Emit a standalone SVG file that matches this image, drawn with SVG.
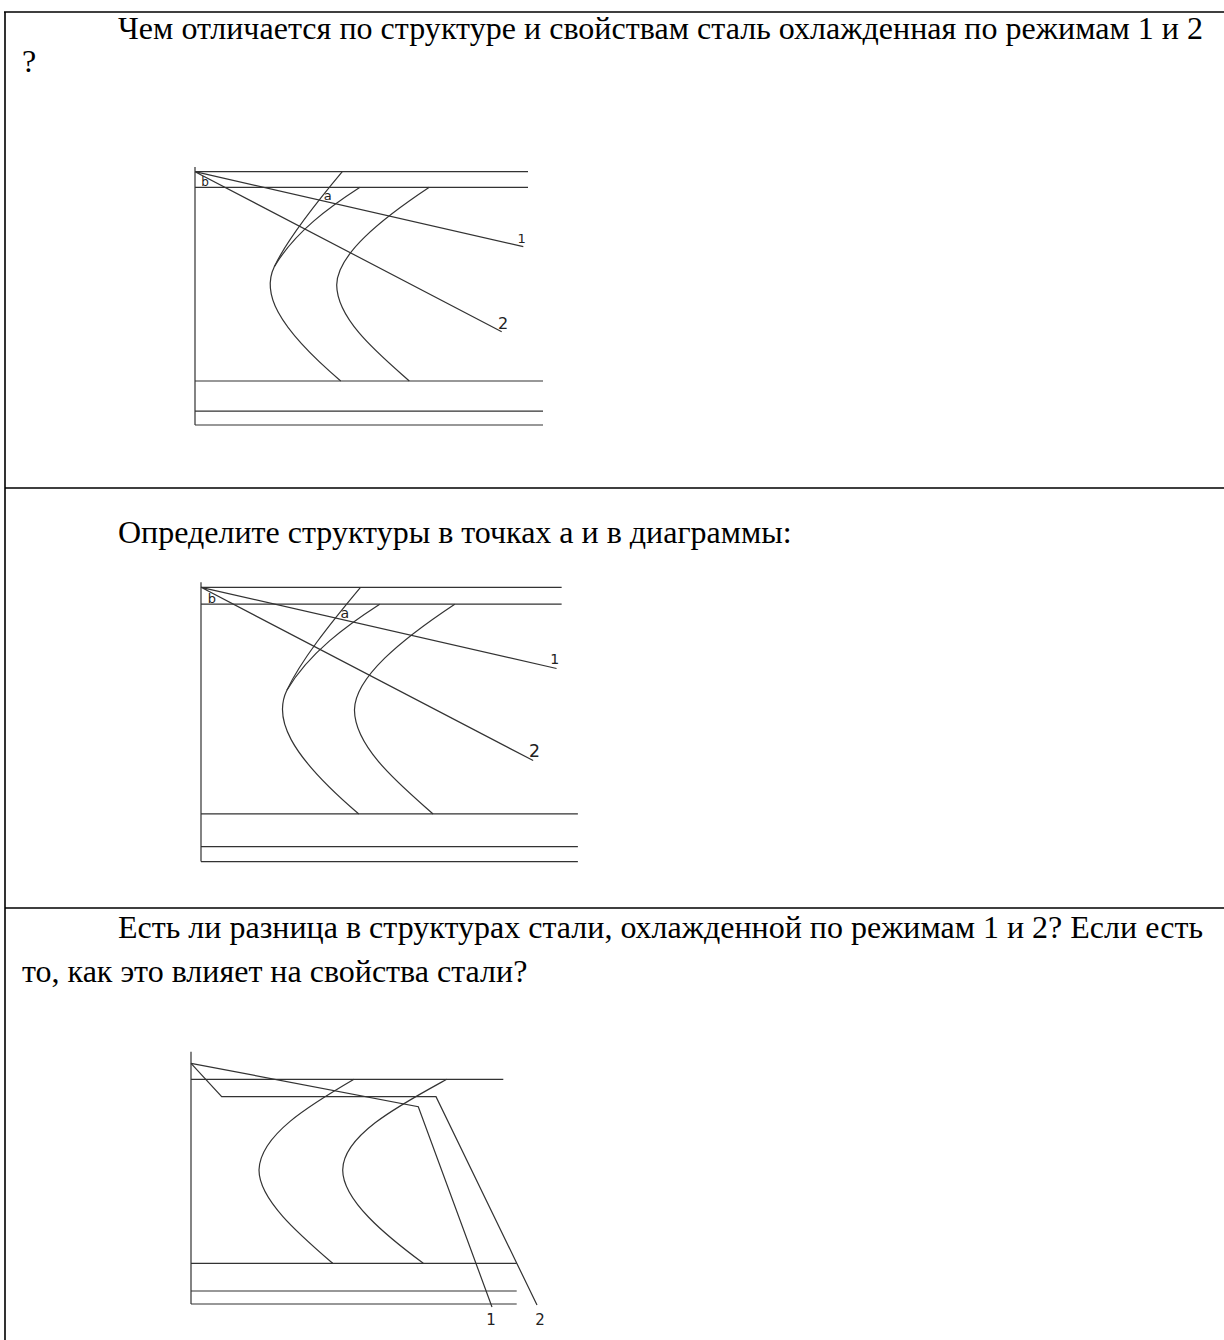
<svg xmlns="http://www.w3.org/2000/svg" xmlns:xlink="http://www.w3.org/1999/xlink" width="1224" height="1340" viewBox="0 0 1224 1340">
<style>
.t{font-family:"Liberation Serif","Times New Roman",serif;font-size:32px;fill:#000}
.b{stroke:#000;stroke-width:1.6;fill:none}
.ln{stroke:#333;stroke-width:1.2;fill:none;vector-effect:non-scaling-stroke}
.lb{font-family:"DejaVu Sans",Verdana,sans-serif;fill:#222;text-anchor:middle}
</style>
<defs>
<g id="chart">
<path class="ln" d="M0,-4.7 V253.3 M0,0 H333 M0,15.6 H333 M0,209.3 H348 M0,239.5 H348 M0,253.3 H348"/>
<path class="ln" d="M0,0 L328.3,75 M0,0 L306.7,160"/>
<path class="ln" d="M147.3,0 C118,35 92,68 79.3,95"/>
<path class="ln" d="M165,15.6 C135,35 100,60 79.3,95"/>
<path class="ln" d="M79.3,95 C67,120.3 80,153.3 145.7,209.3"/>
<path class="ln" d="M234.3,15.6 C185,48.3 142,83.3 141.7,113.3 C142,148.3 185,183.3 214.3,209.3"/>
<text class="lb" x="10" y="14.5" font-size="12">b</text>
<text class="lb" x="132.7" y="28" font-size="13">a</text>
<text class="lb" x="326.7" y="71" font-size="13">1</text>
<text class="lb" x="308" y="157" font-size="16">2</text>
</g>
</defs>
<g id="table">
<path class="b" d="M4,12 H1224 M5,12 V1340 M5,488 H1224 M5,908 H1224"/>
</g>
<g id="row1">
<text class="t" x="118" y="39" textLength="1085" lengthAdjust="spacing">Чем отличается по структуре и свойствам сталь охлажденная по режимам 1 и 2</text>
<text class="t" x="22" y="72">?</text>
</g>
<g id="diagram1">
<use xlink:href="#chart" href="#chart" transform="translate(195,171.7)"/>
</g>
<g id="row2">
<text class="t" x="118" y="543">Определите структуры в точках а и в диаграммы:</text>
</g>
<g id="diagram2">
<use xlink:href="#chart" href="#chart" transform="translate(201,587.3) scale(1.083)"/>
</g>
<g id="row3">
<text class="t" x="118" y="938" textLength="1085" lengthAdjust="spacing">Есть ли разница в структурах стали, охлажденной по режимам 1 и 2? Если есть</text>
<text class="t" x="22" y="982">то, как это влияет на свойства стали?</text>
</g>
<g id="diagram3">
<path class="ln" d="M191,1051.7 V1304 M191,1079.3 H503.3 M191,1263.3 H516.7 M191,1291 H516.7 M191,1304 H516.7"/>
<path class="ln" d="M191,1063.3 L221.7,1096.7 H436 L537,1305"/>
<path class="ln" d="M191,1063.3 L418.3,1106.7 L492,1307"/>
<path class="ln" d="M354,1079.3 C310,1105 260,1135 259,1170 C259,1200 300,1235 332.7,1263.3"/>
<path class="ln" d="M446.7,1079.3 C400,1105 343,1135 342.7,1170 C342.7,1200 385,1235 423.3,1263.3"/>
<text class="lb" x="491" y="1325" font-size="15">1</text>
<text class="lb" x="540" y="1325" font-size="15">2</text>
</g>
</svg>
